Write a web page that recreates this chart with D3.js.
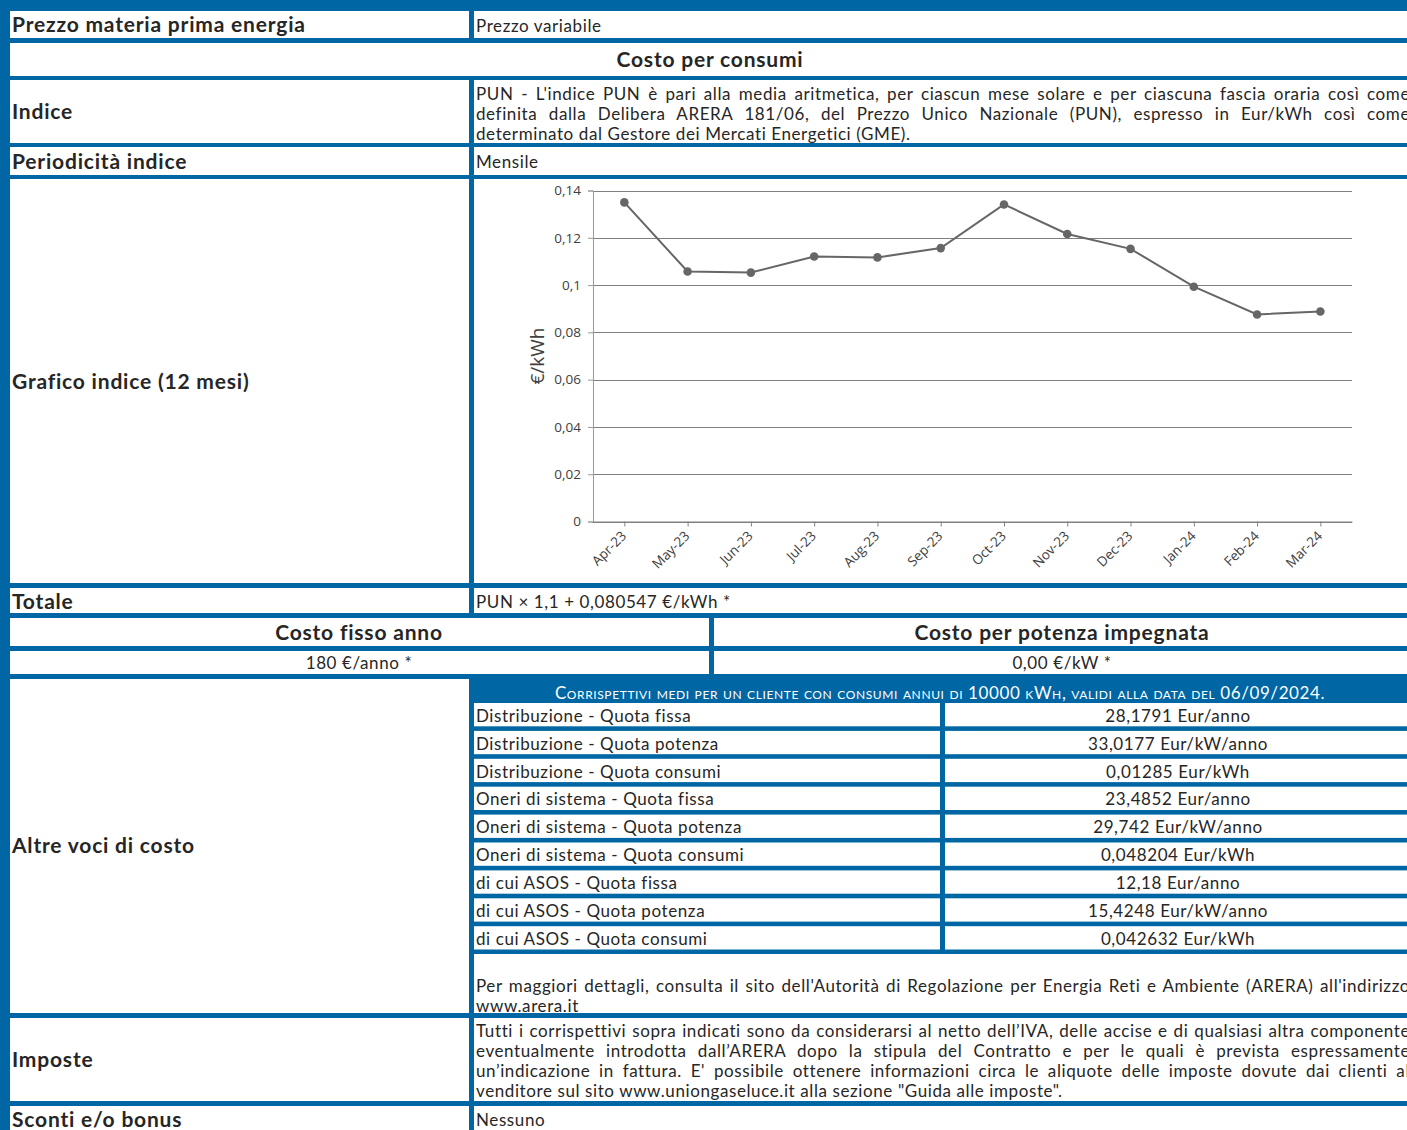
<!DOCTYPE html>
<html>
<head>
<meta charset="utf-8">
<title>Prezzo energia - PUN</title>
<script src="https://d3js.org/d3.v7.min.js"></script>
<style>
body { margin: 0; overflow: hidden; background: #fff; }
svg text { font-family: Lato, "Noto Sans", sans-serif; fill: #262626; }
.lbl { font-weight: bold; font-size: 21px; letter-spacing: 0.8px; }
.txt { font-size: 17px; letter-spacing: 0.6px; }
.axis text { font-family: "Open Sans", sans-serif; font-size: 13.5px; fill: #404040; }
</style>
</head>
<body>
<script type="text/javascript">

// chart data
var months = ["Apr-23", "May-23", "Jun-23", "Jul-23", "Aug-23", "Sep-23",
              "Oct-23", "Nov-23", "Dec-23", "Jan-24", "Feb-24", "Mar-24"];
var pun = [0.13497, 0.10573, 0.10528, 0.11209, 0.11171, 0.11564,
           0.13411, 0.12161, 0.11532, 0.09931, 0.08758, 0.08885];
var yTicks = [0, 0.02, 0.04, 0.06, 0.08, 0.1, 0.12, 0.14];

// table texts
var costItems = ["Distribuzione - Quota fissa", "Distribuzione - Quota potenza", "Distribuzione - Quota consumi",
                 "Oneri di sistema - Quota fissa", "Oneri di sistema - Quota potenza", "Oneri di sistema - Quota consumi",
                 "di cui ASOS - Quota fissa", "di cui ASOS - Quota potenza", "di cui ASOS - Quota consumi"];
var costValues = ["28,1791 Eur/anno", "33,0177 Eur/kW/anno", "0,01285 Eur/kWh",
                  "23,4852 Eur/anno", "29,742 Eur/kW/anno", "0,048204 Eur/kWh",
                  "12,18 Eur/anno", "15,4248 Eur/kW/anno", "0,042632 Eur/kWh"];
var indiceLines = ["PUN - L'indice PUN è pari alla media aritmetica, per ciascun mese solare e per ciascuna fascia oraria così come",
                   "definita dalla Delibera ARERA 181/06, del Prezzo Unico Nazionale (PUN), espresso in Eur/kWh così come",
                   "determinato dal Gestore dei Mercati Energetici (GME)."];
var areraLines = ["Per maggiori dettagli, consulta il sito dell'Autorità di Regolazione per Energia Reti e Ambiente (ARERA) all'indirizzo",
                  "www.arera.it"];
var imposteLines = ["Tutti i corrispettivi sopra indicati sono da considerarsi al netto dell’IVA, delle accise e di qualsiasi altra componente",
                    "eventualmente introdotta dall’ARERA dopo la stipula del Contratto e per le quali è prevista espressamente",
                    "un’indicazione in fattura. E' possibile ottenere informazioni circa le aliquote delle imposte dovute dai clienti al",
                    "venditore sul sito www.uniongaseluce.it alla sezione \"Guida alle imposte\"."];

var W = 1420, H = 1140, blue = "#0066a4";
var L0 = 10, L1 = 469, R0 = 474, R1 = 1411, TX = 476;

var svg = d3.select("body").append("svg")
    .attr("width", W)
    .attr("height", H);

svg.append("rect").attr("width", W).attr("height", H).attr("fill", blue);

function cell(x0, y0, x1, y1) {
  svg.append("rect").attr("x", x0).attr("y", y0)
    .attr("width", x1 - x0).attr("height", y1 - y0).attr("fill", "#fff");
}
function text(x, y, s, cls, anchor) {
  return svg.append("text").attr("class", cls).attr("x", x).attr("y", y)
    .attr("dy", cls == "txt" ? "0.42em" : "0.35em").attr("text-anchor", anchor || "start").text(s);
}
// justified line: spread word spacing to reach right edge
function justified(lines, y0, step, right) {
  lines.forEach(function(s, i) {
    var t = text(TX, y0 + i * step, s, "txt");
    if (i < lines.length - 1) {
      var w = t.node().getComputedTextLength();
      var n = s.split(" ").length - 1;
      t.attr("word-spacing", ((right - TX) - w) / n);
    }
  });
}

// rows
cell(L0, 11, L1, 38); cell(R0, 11, R1, 38);
text(12, 25, "Prezzo materia prima energia", "lbl");
text(TX, 25, "Prezzo variabile", "txt");

cell(L0, 43, R1, 76);
text(710, 60, "Costo per consumi", "lbl", "middle");

cell(L0, 80, L1, 143); cell(R0, 80, R1, 143);
text(12, 112, "Indice", "lbl");
justified(indiceLines, 93, 20, 1410);

cell(L0, 147, L1, 175); cell(R0, 147, R1, 175);
text(12, 162, "Periodicità indice", "lbl");
text(TX, 161, "Mensile", "txt");

cell(L0, 179, L1, 583); cell(R0, 179, R1, 583);
text(12, 382, "Grafico indice (12 mesi)", "lbl");

cell(L0, 588, L1, 613); cell(R0, 588, R1, 613);
text(12, 602, "Totale", "lbl");
text(TX, 601, "PUN × 1,1 + 0,080547 €/kWh *", "txt");

cell(L0, 618, 709, 646); cell(714, 618, R1, 646);
text(359, 633, "Costo fisso anno", "lbl", "middle");
text(1062, 633, "Costo per potenza impegnata", "lbl", "middle");

cell(L0, 651, 709, 674); cell(714, 651, R1, 674);
text(359, 662, "180 €/anno *", "txt", "middle");
text(1062, 662, "0,00 €/kW *", "txt", "middle");

// altre voci di costo
cell(L0, 679, L1, 1013);
text(12, 846, "Altre voci di costo", "lbl");
text(940, 691.5, "Corrispettivi medi per un cliente con consumi annui di 10000 kWh, validi alla data del 06/09/2024.", "txt", "middle")
  .style("font-variant", "small-caps").style("fill", "#fff");

costItems.forEach(function(d, i) {
  var y0 = 703 + i * 27.9, y1 = y0 + 23.3;
  cell(R0, y0, 940, y1); cell(945, y0, R1, y1);
  text(TX, (y0 + y1) / 2, d, "txt");
  text(1178, (y0 + y1) / 2, costValues[i], "txt", "middle");
});

cell(R0, 954, R1, 1013);
justified(areraLines, 985, 20, 1410);

cell(L0, 1018, L1, 1101); cell(R0, 1018, R1, 1101);
text(12, 1060, "Imposte", "lbl");
justified(imposteLines, 1030, 20, 1410);

cell(L0, 1106, L1, H); cell(R0, 1106, R1, H);
text(12, 1120, "Sconti e/o bonus", "lbl");
text(TX, 1119, "Nessuno", "txt");

// chart
var x = d3.scalePoint().domain(months).range([592.7, 1352]).padding(0.5);
var y = d3.scaleLinear().domain([0, 0.14]).range([521.5, 190.5]);
var fmt = function(d) { return String(+d.toFixed(2)).replace(".", ","); };

svg.append("g").selectAll("line").data(yTicks).enter().append("line")
  .attr("x1", 592.7).attr("x2", 1352)
  .attr("y1", function(d) { return Math.round(y(d)) + 0.5; })
  .attr("y2", function(d) { return Math.round(y(d)) + 0.5; })
  .attr("stroke", "#808080");

var ya = svg.append("g").attr("class", "axis")
  .attr("transform", "translate(593,0)")
  .call(d3.axisLeft(y).tickValues(yTicks).tickSize(5).tickPadding(7).tickFormat(fmt));
ya.selectAll("line, path").attr("stroke", "#9a9a9a");

var xa = svg.append("g").attr("class", "axis")
  .attr("transform", "translate(0,521.5)")
  .call(d3.axisBottom(x).tickSize(5).tickSizeOuter(0));
xa.selectAll("line, path").attr("stroke", "#808080");
xa.selectAll("text")
  .attr("x", 0).attr("y", 0)
  .attr("text-anchor", "end")
  .attr("dy", "0.35em")
  .attr("transform", "translate(-1,12) rotate(-45)");

svg.append("text")
  .attr("transform", "translate(537,356) rotate(-90)")
  .attr("text-anchor", "middle").attr("dy", "0.35em")
  .style("font-family", "'Open Sans', sans-serif").style("font-size", "19px").style("fill", "#404040")
  .text("€/kWh");

svg.append("path")
  .datum(pun)
  .attr("fill", "none").attr("stroke", "#666").attr("stroke-width", 2)
  .attr("d", d3.line().x(function(d, i) { return x(months[i]); }).y(function(d) { return y(d); }));

svg.append("g").selectAll("circle").data(pun).enter().append("circle")
  .attr("cx", function(d, i) { return x(months[i]); })
  .attr("cy", function(d) { return y(d); })
  .attr("r", 4.3)
  .attr("fill", "#666");

</script>
</body>
</html>
